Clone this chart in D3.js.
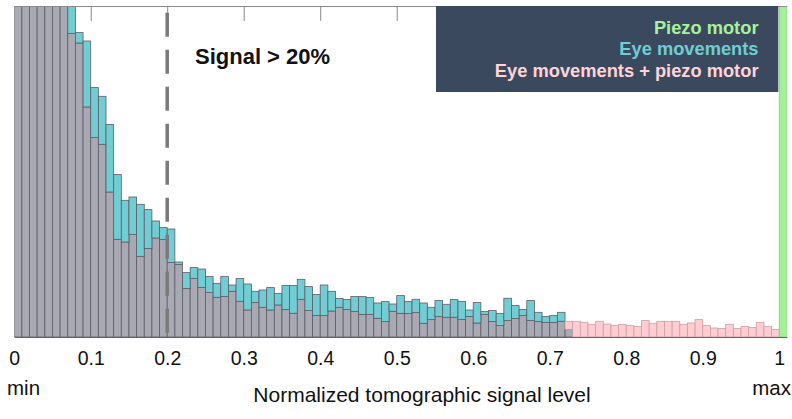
<!DOCTYPE html>
<html>
<head>
<meta charset="utf-8">
<script src="https://cdn.jsdelivr.net/npm/d3@7"></script>
<style>
  body { margin: 0; background: #fff; }
  svg { display: block; font-family: "Liberation Sans", Arial, sans-serif; }
</style>
</head>
<body>
<svg></svg>
<script>
// bin start values (0.00 .. 0.99), width 0.01
let binWidth = 0.01;
let binStarts = d3.range(100).map((i) => +(i * binWidth).toFixed(2));

// Eye movements (cyan) counts per bin
let eyeCounts = [
  560, 510, 480, 455, 430, 405, 375, 345, 304.4, 296,
  249.4, 240.7, 212.4, 162.4, 136.7, 140, 132.7, 127.4, 116, 109.4,
  108, 75, 64.4, 69.4, 68, 60.4, 53.7, 60.4, 52, 58.4,
  53, 45.7, 47, 49.4, 43.4, 51.4, 51.4, 57.7, 50.4, 42.4,
  52, 45.7, 38.4, 37.4, 40.4, 40.4, 39.4, 34, 35.4, 33,
  41.4, 35.4, 37.7, 34, 29.7, 36.4, 32.7, 37.4, 35.7, 27,
  34.4, 25.4, 26.4, 23.4, 38.7, 31.4, 27.4, 36.4, 24.7, 20.4,
  21.4, 24.7, 7.7, 0, 0, 0, 0, 0, 0, 0,
  0, 0, 0, 0, 0, 0, 0, 0, 0, 0,
  0, 0, 0, 0, 0, 0, 0, 0, 0, 0
];

// Eye movements + piezo motor (pink) counts per bin
let bothCounts = [
  540, 495, 465, 440, 415, 390, 360, 303.4, 294, 230,
  199.4, 192.7, 145, 97.7, 95, 102.4, 80.7, 88.4, 99, 97.4,
  74.4, 72.5, 48.4, 58.4, 49.4, 44.4, 39.7, 40.4, 45.7, 35.7,
  27, 34.4, 29.7, 27, 32, 27.4, 23.7, 37.7, 26.4, 21.4,
  21.4, 26, 29.7, 27.4, 25.4, 22.4, 22.4, 18.7, 15.4, 25.7,
  23.7, 23.4, 24.4, 13.7, 17.4, 20.4, 19.7, 19.7, 17.4, 20.4,
  14, 22.4, 15.4, 11.4, 16.4, 18.4, 21.4, 16.4, 15.4, 14.4,
  14.4, 15.7, 15.7, 15.7, 14.7, 12.7, 15.7, 13, 11.4, 12.4,
  11.4, 10.4, 16.4, 13.7, 15.7, 15.7, 15.7, 12.7, 14, 17.4,
  11.4, 9, 8.4, 12.7, 8.4, 10.4, 9.4, 14.7, 10.7, 7.4
];

// Piezo motor (green): everything lands in the last bin
let piezoStarts = [1.0];
let piezoCounts = [2000];

let xTicks = [0, 0.1, 0.2, 0.3, 0.4, 0.5, 0.6, 0.7, 0.8, 0.9, 1];
let legendLabels = ["Piezo motor", "Eye movements", "Eye movements + piezo motor"];
let legendColors = ["#a6f29c", "#6fcdd4", "#ffd3d8"];

let width = 792;
let height = 419;
let plotLeft = 14.2, plotRight = 786.9, plotTop = 6, plotBottom = 337;

let grayFill = "#a9a9b4";
let cyanFill = "#71cdd3";
let pinkFill = "#ffccd2";
let greenFill = "#a3f29a";
let edge = "#5d5d66";

let svg = d3.select("svg").attr("width", width).attr("height", height);

let xScale = d3.scaleLinear().domain([0, 1.01]).range([plotLeft, plotRight]);
let yScale = d3.scaleLinear().domain([0, 331]).range([plotBottom, plotTop]);

svg.append("clipPath").attr("id", "plotClip")
    .append("rect")
    .attr("x", plotLeft).attr("y", plotTop)
    .attr("width", plotRight - plotLeft).attr("height", plotBottom - plotTop);

let plot = svg.append("g").attr("clip-path", "url(#plotClip)");

let bins = binStarts.map((b, i) => {
    return { x0: b, eye: eyeCounts[i], both: bothCounts[i] };
});

let bw = xScale(binWidth) - xScale(0);

// overlap part (both histograms) in gray
plot.selectAll("rect.overlap")
    .data(bins.filter((d) => Math.min(d.eye, d.both) > 0))
    .enter()
    .append("rect")
    .attr("class", "overlap")
    .attr("x", (d) => xScale(d.x0))
    .attr("width", bw)
    .attr("y", (d) => yScale(Math.min(d.eye, d.both)))
    .attr("height", (d) => yScale(0) - yScale(Math.min(d.eye, d.both)))
    .style("fill", grayFill)
    .style("stroke", edge)
    .style("stroke-width", 0.8);

// cyan where eye movements exceed
plot.selectAll("rect.eye")
    .data(bins.filter((d) => d.eye > d.both))
    .enter()
    .append("rect")
    .attr("class", "eye")
    .attr("x", (d) => xScale(d.x0))
    .attr("width", bw)
    .attr("y", (d) => yScale(d.eye))
    .attr("height", (d) => yScale(d.both) - yScale(d.eye))
    .style("fill", cyanFill)
    .style("stroke", edge)
    .style("stroke-width", 0.8);

// pink where eye + piezo exceeds
plot.selectAll("rect.both")
    .data(bins.filter((d) => d.both > d.eye))
    .enter()
    .append("rect")
    .attr("class", "both")
    .attr("x", (d) => xScale(d.x0))
    .attr("width", bw)
    .attr("y", (d) => yScale(d.both))
    .attr("height", (d) => yScale(d.eye) - yScale(d.both))
    .style("fill", pinkFill)
    .style("stroke", "#c9a0a6")
    .style("stroke-width", 0.8);

// piezo motor
plot.selectAll("rect.piezo")
    .data(piezoStarts)
    .enter()
    .append("rect")
    .attr("class", "piezo")
    .attr("x", (d) => xScale(d))
    .attr("width", bw)
    .attr("y", (d, i) => yScale(piezoCounts[i]))
    .attr("height", (d, i) => yScale(0) - yScale(piezoCounts[i]))
    .style("fill", greenFill)
    .style("stroke", "#7fcf78")
    .style("stroke-width", 0.8);

// top axis with inward ticks
let topAxis = svg.append("g")
    .attr("transform", "translate(0," + plotTop + ")")
    .call(d3.axisTop(xScale).tickValues(xTicks.slice(1, -1)).tickSize(-15).tickSizeOuter(0).tickFormat(""));
topAxis.select(".domain").attr("stroke", "#8a8a8a");
topAxis.selectAll(".tick line").attr("stroke", "#8a8a8a");

// bottom axis labels
let bottomAxis = svg.append("g")
    .attr("transform", "translate(0," + plotBottom + ")")
    .call(d3.axisBottom(xScale).tickValues(xTicks).tickSize(0).tickPadding(14).tickFormat(d3.format("")));
bottomAxis.select(".domain").attr("stroke", "#666");
bottomAxis.selectAll("text")
    .style("font-size", "19.5px")
    .style("font-family", "'Liberation Sans', Arial, sans-serif")
    .attr("fill", "#111");

// threshold line at 0.2
svg.append("line")
    .attr("x1", xScale(0.2)).attr("x2", xScale(0.2))
    .attr("y1", 12.7).attr("y2", plotBottom)
    .attr("stroke", "#7a7a7a")
    .attr("stroke-width", 3.5)
    .attr("stroke-dasharray", "24,13");

svg.append("text")
    .attr("x", 195).attr("y", 63.5)
    .style("font-size", "22px").style("font-weight", "bold")
    .attr("fill", "#111")
    .text("Signal > 20%");

// legend
svg.append("rect")
    .attr("x", 436).attr("y", plotTop)
    .attr("width", 342.3).attr("height", 86)
    .attr("fill", "#3b495e");

svg.selectAll("text.legend")
    .data(legendLabels)
    .enter()
    .append("text")
    .attr("class", "legend")
    .attr("x", 758.5)
    .attr("y", (d, i) => 34 + i * 21.4)
    .attr("text-anchor", "end")
    .style("font-size", "18.3px").style("font-weight", "bold")
    .attr("fill", (d, i) => legendColors[i])
    .text((d) => d);

// min / max and axis title
svg.append("text").attr("x", 7).attr("y", 394.7)
    .style("font-size", "20.5px").attr("fill", "#111").text("min");
svg.append("text").attr("x", 791).attr("y", 394.7).attr("text-anchor", "end")
    .style("font-size", "20.5px").attr("fill", "#111").text("max");
svg.append("text").attr("x", 422).attr("y", 402.3).attr("text-anchor", "middle")
    .style("font-size", "21px").attr("fill", "#111").text("Normalized tomographic signal level");
</script>
</body>
</html>
